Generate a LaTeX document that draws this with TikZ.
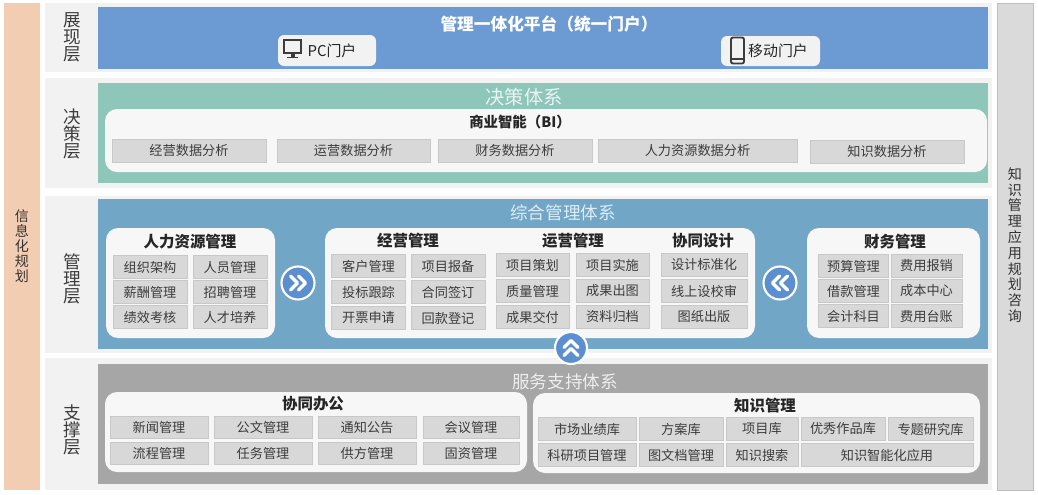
\documentclass[tikz,border=0pt]{standalone}
\usepackage{fontspec}
\setmainfont{Noto Sans CJK SC}
\newdimen\pxu \pxu=0.02cm
\definecolor{rowgray}{RGB}{242,242,242}
\definecolor{showblue}{RGB}{107,155,210}
\definecolor{decgreen}{RGB}{143,198,186}
\definecolor{mgmtblue}{RGB}{113,166,198}
\definecolor{svcgray}{RGB}{166,166,166}
\definecolor{panelwhite}{RGB}{247,247,247}
\definecolor{cellgray}{RGB}{216,216,216}
\definecolor{cellline}{RGB}{200,200,200}
\definecolor{textgray}{RGB}{60,60,60}
\definecolor{turnblue}{RGB}{92,143,208}
\definecolor{planorange}{RGB}{243,205,178}
\definecolor{consultgray}{RGB}{218,218,218}
\definecolor{consultline}{RGB}{190,190,190}
\definecolor{icongray}{RGB}{60,60,60}
\definecolor{decline}{RGB}{232,244,241}
\definecolor{mgmtline}{RGB}{222,236,245}
\definecolor{svcline}{RGB}{238,238,238}
\begin{document}
\begin{tikzpicture}[x=0.02cm,y=-0.02cm]
        \tikzstyle{cell}=[rectangle,draw=cellline,fill=cellgray,inner sep=0pt,minimum height=22.5\pxu,text=textgray,font=\fontsize{7.5}{9}\selectfont]
        \tikzstyle{head}=[inner sep=0pt,text=black!85,font=\fontsize{8.8}{10}\selectfont\bfseries]
        \tikzstyle{layer}=[inner sep=0pt,align=center,text=textgray,font=\fontsize{10}{9.5}\selectfont]
        \tikzstyle{side}=[inner sep=0pt,align=center,text=black!80]
        \tikzstyle{system}=[inner sep=0pt,font=\fontsize{10}{12}\selectfont]
        \tikzstyle{panel}=[fill=panelwhite,rounded corners=12\pxu]
        \tikzstyle{portal}=[rectangle,fill=rowgray,rounded corners=6\pxu,inner sep=0pt]
        \tikzstyle{portaltext}=[inner sep=0pt,text=black!85,font=\fontsize{8.5}{10}\selectfont]
        \tikzstyle{icon}=[draw=icongray,line width=1.1pt]
        \tikzstyle{turn}=[circle,fill=turnblue,draw=white,line width=1.2pt,minimum size=33\pxu,inner sep=0pt]
        \tikzstyle{chev}=[white,line width=2pt,line cap=round,line join=round]
        \useasboundingbox (0,0) rectangle (1038,494);
        % side strips
        \fill[planorange] (4,3) rectangle (40,490);
        \node [side,font=\fontsize{8}{8.5}\selectfont] (plan) at (22,246) {信\\息\\化\\规\\划};
        \fill[consultgray,draw=consultline] (997,3) rectangle (1033,490);
        \node [side,font=\fontsize{8}{9}\selectfont] (consult) at (1015,245) {知\\识\\管\\理\\应\\用\\规\\划\\咨\\询};
        % presentation layer
        \fill[rowgray] (45,3) rectangle (992,72);
        \fill[showblue] (98,7) rectangle (988,69);
        \node [layer] (show) at (72,37.5) {展\\现\\层};
        \node [system,text=white,font=\fontsize{9.5}{11}\selectfont\bfseries] (platform) at (549,24) {管理一体化平台（统一门户）};
        \node [portal,minimum width=98\pxu,minimum height=31\pxu] (pc) at (327,50.5) {};
        \node [portaltext] (pclabel) at (332,50.5) {PC门户};
        \draw[icon] (284,40) rectangle (301,53);
        \fill[icongray] (290.5,53) rectangle (294.5,56.5);
        \fill[icongray] (287,56.5) rectangle (298,58.3);
        \node [portal,minimum width=99\pxu,minimum height=30\pxu] (mobile) at (770.5,51) {};
        \node [portaltext] (mobilelabel) at (778,51) {移动门户};
        \draw[icon,rounded corners=2\pxu] (731,37.5) rectangle (744,63.5);
        \draw[icon] (731,59) -- (744,59);
        % decision layer
        \fill[rowgray] (45,78) rectangle (992,188);
        \fill[decgreen] (98,83) rectangle (988,183);
        \fill[panel] (105,109) rectangle (987,172);
        \node [layer] (decide) at (72,134) {决\\策\\层};
        \node [system,text=decline,font=\fontsize{11}{13}\selectfont] (decision) at (524,97) {决策体系};
        \node [head,font=\fontsize{8.2}{10}\selectfont\bfseries] (bi) at (520,122) {商业智能（BI）};
        \node [cell,minimum width=154\pxu] (d1) at (189,151) {经营数据分析};
        \node [cell,minimum width=153\pxu] (d2) at (353.5,151) {运营数据分析};
        \node [cell,minimum width=154\pxu] (d3) at (515,151) {财务数据分析};
        \node [cell,minimum width=199\pxu] (d4) at (697.5,151) {人力资源数据分析};
        \node [cell,minimum width=154\pxu] (d5) at (887,152) {知识数据分析};
        % management layer
        \fill[rowgray] (45,196) rectangle (992,353);
        \fill[mgmtblue] (98,199) rectangle (988,349);
        \node [layer] (manage) at (72,279) {管\\理\\层};
        \node [system,text=mgmtline] (integrated) at (563,213) {综合管理体系};
        \fill[panel] (106,228) rectangle (275,338);
        \fill[panel] (325,228) rectangle (755,338);
        \fill[panel] (807,228) rectangle (980,338);
        \node [head] (hr) at (190,242) {人力资源管理};
        \node [cell,minimum width=74\pxu] (hr1) at (150,267) {组织架构};
        \node [cell,minimum width=74\pxu] (hr2) at (230,267) {人员管理};
        \node [cell,minimum width=74\pxu] (hr3) at (150,292) {薪酬管理};
        \node [cell,minimum width=74\pxu] (hr4) at (230,292) {招聘管理};
        \node [cell,minimum width=74\pxu] (hr5) at (150,317) {绩效考核};
        \node [cell,minimum width=74\pxu] (hr6) at (230,317) {人才培养};
        \node [head] (biz) at (408,241) {经营管理};
        \node [cell,minimum width=74\pxu] (biz1) at (368.5,266) {客户管理};
        \node [cell,minimum width=74\pxu] (biz2) at (448,266) {项目报备};
        \node [cell,minimum width=74\pxu] (biz3) at (368.5,292) {投标跟踪};
        \node [cell,minimum width=74\pxu] (biz4) at (448,292) {合同签订};
        \node [cell,minimum width=74\pxu] (biz5) at (368.5,318) {开票申请};
        \node [cell,minimum width=74\pxu] (biz6) at (448,318) {回款登记};
        \node [head] (ops) at (573,241) {运营管理};
        \node [cell,minimum width=73\pxu] (ops1) at (532.5,265) {项目策划};
        \node [cell,minimum width=73\pxu] (ops2) at (612.5,265) {项目实施};
        \node [cell,minimum width=73\pxu] (ops3) at (532.5,291) {质量管理};
        \node [cell,minimum width=73\pxu] (ops4) at (612.5,291) {成果出图};
        \node [cell,minimum width=73\pxu] (ops5) at (532.5,317) {成果交付};
        \node [cell,minimum width=73\pxu] (ops6) at (612.5,317) {资料归档};
        \node [head] (design) at (703,241) {协同设计};
        \node [cell,minimum width=86\pxu] (des1) at (704,265) {设计标准化};
        \node [cell,minimum width=86\pxu] (des2) at (704,291) {线上设校审};
        \node [cell,minimum width=86\pxu] (des3) at (704,317) {图纸出版};
        \node [head] (fin) at (895,242) {财务管理};
        \node [cell,minimum width=70\pxu] (fin1) at (853.5,266) {预算管理};
        \node [cell,minimum width=71\pxu] (fin2) at (926.5,266) {费用报销};
        \node [cell,minimum width=70\pxu] (fin3) at (853.5,291) {借款管理};
        \node [cell,minimum width=71\pxu] (fin4) at (926.5,291) {成本中心};
        \node [cell,minimum width=70\pxu] (fin5) at (853.5,316) {会计科目};
        \node [cell,minimum width=71\pxu] (fin6) at (926.5,316) {费用台账};
        % support layer
        \fill[rowgray] (45,358) rectangle (992,490);
        \fill[svcgray] (98,364) rectangle (988,484);
        \node [layer] (support) at (72,430) {支\\撑\\层};
        \node [system,text=svcline] (service) at (565,382) {服务支持体系};
        \fill[panel] (105,392) rectangle (527,472);
        \fill[panel] (533,393) rectangle (980,473);
        \node [head] (office) at (313,404) {协同办公};
        \node [cell,minimum width=98\pxu] (of1) at (159,427.5) {新闻管理};
        \node [cell,minimum width=98\pxu] (of2) at (263,427.5) {公文管理};
        \node [cell,minimum width=98\pxu] (of3) at (367,427.5) {通知公告};
        \node [cell,minimum width=96\pxu] (of4) at (471,427.5) {会议管理};
        \node [cell,minimum width=98\pxu] (of5) at (159,453.5) {流程管理};
        \node [cell,minimum width=98\pxu] (of6) at (263,453.5) {任务管理};
        \node [cell,minimum width=98\pxu] (of7) at (367,453.5) {供方管理};
        \node [cell,minimum width=96\pxu] (of8) at (471,453.5) {固资管理};
        \node [head] (know) at (765,406) {知识管理};
        \node [cell,minimum width=98\pxu] (kn1) at (587,429) {市场业绩库};
        \node [cell,minimum width=84\pxu] (kn2) at (681,429) {方案库};
        \node [cell,minimum width=72\pxu] (kn3) at (762,429) {项目库};
        \node [cell,minimum width=84\pxu] (kn4) at (843,429) {优秀作品库};
        \node [cell,minimum width=85\pxu] (kn5) at (930.5,429) {专题研究库};
        \node [cell,minimum width=98\pxu] (kn6) at (587,455) {科研项目管理};
        \node [cell,minimum width=84\pxu] (kn7) at (681,455) {图文档管理};
        \node [cell,minimum width=72\pxu] (kn8) at (762,455) {知识搜索};
        \node [cell,minimum width=172\pxu] (kn9) at (887,455) {知识智能化应用};
        % turn marks
        \node [turn] (fwd) at (298,283) {};
        \begin{scope}[shift={(fwd.center)}]
          \draw[chev] (-7.5,-7) -- (-0.5,0) -- (-7.5,7) (0.5,-7) -- (7.5,0) -- (0.5,7);
        \end{scope}
        \node [turn] (back) at (780,283) {};
        \begin{scope}[shift={(back.center)}]
          \draw[chev] (7.5,-7) -- (0.5,0) -- (7.5,7) (-0.5,-7) -- (-7.5,0) -- (-0.5,7);
        \end{scope}
        \node [turn,minimum size=32\pxu] (up) at (571,348) {};
        \begin{scope}[shift={(up.center)}]
          \draw[chev] (-7,-0.5) -- (0,-7.5) -- (7,-0.5) (-7,7.5) -- (0,0.5) -- (7,7.5);
        \end{scope}
      \end{tikzpicture}
\end{document}
